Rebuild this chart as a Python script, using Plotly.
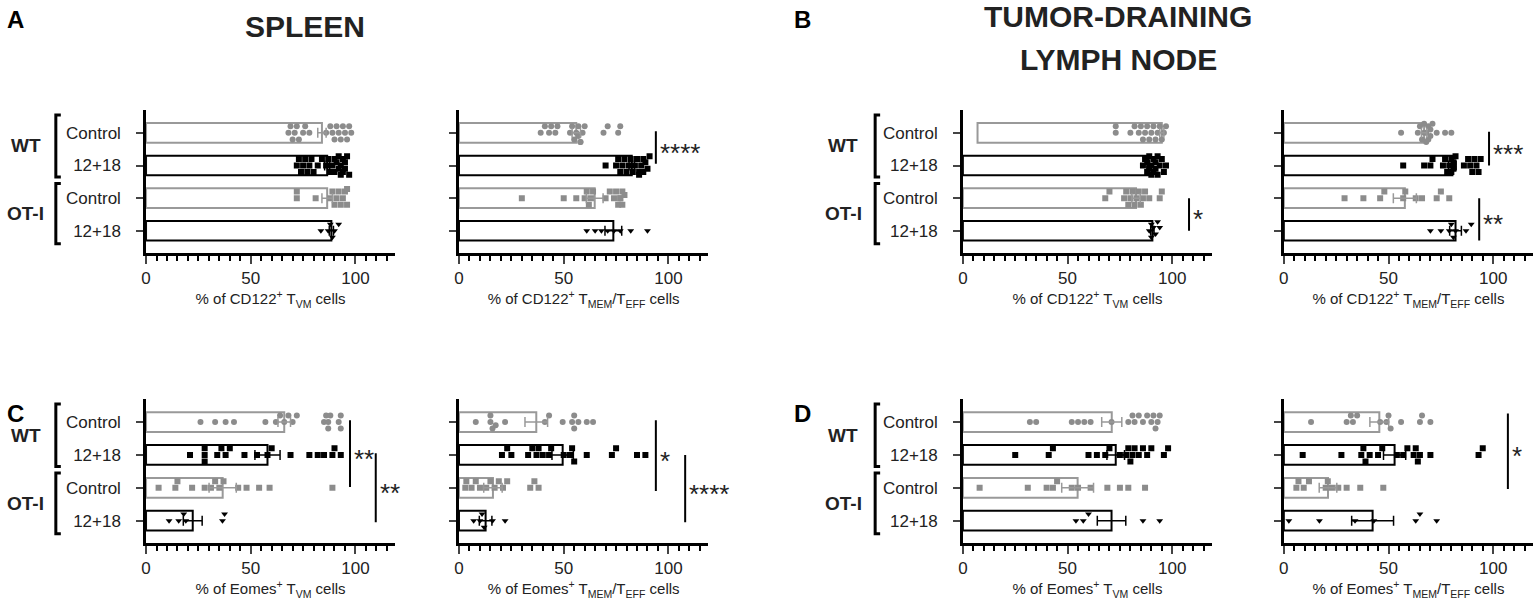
import plotly.graph_objects as go

# ---- data ---------------------------------------------------------------
groups = ["Control", "12+18", "Control", "12+18"]
strains = ["WT", "OT-I"]

# A, spleen, CD122+ TVM
spl_cd122_vm_mean = [84, 86.5, 86.5, 88.5]
spl_cd122_vm_sem = [2.0, 1.2, 2.5, 1.0]
spl_cd122_vm_pts = [
    [68, 69, 70, 71, 72, 73, 75, 76, 78, 86, 88, 89, 90, 91, 92, 93, 94, 95, 96, 97, 98],
    [72, 73, 74, 75, 76, 77, 78, 79, 80, 82, 84, 86, 87, 88, 89, 90, 90, 91, 92, 92, 93, 93, 94, 94, 95, 95, 96, 97],
    [72, 72, 81, 88, 89, 90, 91, 92, 93, 94, 95, 96, 96],
    [83.5, 87, 88, 89, 90, 92],
]
# A, spleen, CD122+ TMEM/TEFF
spl_cd122_mem_mean = [56, 82.5, 64.8, 73.7]
spl_cd122_mem_sem = [2.0, 1.3, 4.0, 4.0]
spl_cd122_mem_pts = [
    [39, 41, 43, 44, 46, 47, 53, 54, 55, 56, 57, 57, 58, 58, 59, 60, 69, 71, 76, 77],
    [70, 75, 76, 77, 78, 79, 80, 81, 82, 83, 84, 85, 86, 86, 87, 88, 88, 89, 90, 91],
    [30, 50, 56, 60, 61, 62, 63, 64, 70, 72, 74, 75, 76, 77, 77, 78, 78, 79],
    [61, 65, 68, 71, 74, 77, 82, 90],
]
# B, tumor-draining LN, CD122+ TVM
tdln_cd122_vm_base = [7, 0, 0, 0]
tdln_cd122_vm_mean = [88, 88.5, 82.7, 90.5]
tdln_cd122_vm_sem = [1.0, 0.6, 2.0, 0.8]
tdln_cd122_vm_pts = [
    [73, 73, 80, 82, 84, 85, 86, 87, 88, 89, 90, 91, 92, 93, 94, 95, 96, 97],
    [86, 87, 88, 88, 89, 89, 90, 90, 91, 91, 92, 92, 93, 93, 94, 95, 96, 97],
    [68, 70, 77, 78, 79, 80, 81, 82, 83, 84, 85, 86, 87, 89, 94, 95],
    [89, 90, 90, 91, 92, 93, 94],
]
# B, tumor-draining LN, CD122+ TMEM/TEFF
tdln_cd122_mem_mean = [67, 80.5, 57.8, 82]
tdln_cd122_mem_sem = [1.3, 1.8, 5.5, 2.8]
tdln_cd122_mem_pts = [
    [56, 64, 65, 66, 67, 67, 68, 68, 69, 69, 70, 70, 71, 73, 77, 80],
    [57, 67, 70, 71, 76, 77, 78, 79, 80, 80, 81, 81, 82, 86, 88, 89, 90, 91, 92, 93, 94],
    [29, 38, 46, 48, 57, 58, 63, 66, 73, 75, 79],
    [70, 75, 79, 80, 81, 82, 87, 89.5],
]
# C, spleen, Eomes+ TVM
spl_eomes_vm_mean = [66, 58, 36.6, 22.3]
spl_eomes_vm_sem = [3.0, 6.0, 6.5, 4.5]
spl_eomes_vm_pts = [
    [26, 33, 38, 42, 57, 62, 64, 66, 68, 70, 72, 85, 86, 87, 87, 88, 92, 93, 93],
    [21, 28, 28, 28, 34, 36, 38, 40, 47, 53, 58, 60, 69, 78, 82, 85, 89, 90, 93],
    [6, 14, 15, 22, 28, 31, 33, 35, 37, 44, 48, 54, 59, 89],
    [11, 15.6, 18, 19, 36.5, 37.5],
]
# C, spleen, Eomes+ TMEM/TEFF
spl_eomes_mem_mean = [36.9, 49.5, 16.2, 12.7]
spl_eomes_mem_sem = [5.4, 5.1, 4.4, 3.0]
spl_eomes_mem_pts = [
    [8, 15, 15, 16, 17.5, 22, 41, 43, 49.5, 54, 55, 55, 57, 61, 64],
    [20.5, 23, 25, 33, 35, 37, 38, 40, 43, 44, 50, 53, 54, 55, 61, 73, 75, 85, 89],
    [3, 3.5, 6, 8, 10, 13, 15, 17, 19, 21, 23, 34, 36, 38],
    [7, 10, 11, 12, 16, 22],
]
# D, tumor-draining LN, Eomes+ TVM
tdln_eomes_vm_mean = [71.1, 73, 54.8, 71]
tdln_eomes_vm_sem = [4.8, 4.2, 7.6, 6.8]
tdln_eomes_vm_pts = [
    [32, 35, 52, 55, 58, 61, 71, 79, 81, 82, 84, 86, 88, 90, 91, 92, 93, 94],
    [25, 41, 43, 60, 64, 68, 70, 75, 78, 79, 80, 81, 82, 84, 86, 88, 90, 96, 98],
    [8, 31, 40, 43, 45, 52, 55, 61, 69, 75, 79, 87],
    [54, 57.5, 60, 86, 94],
]
# D, tumor-draining LN, Eomes+ TMEM/TEFF
tdln_eomes_mem_mean = [45.6, 52.9, 21.1, 42.4]
tdln_eomes_mem_sem = [4.5, 5.3, 4.2, 10.0]
tdln_eomes_mem_pts = [
    [13, 30, 32, 33, 35, 46, 49, 50, 51, 56, 65, 66, 70],
    [9, 27.5, 37, 38, 39, 41, 45, 47, 54, 57, 59, 62, 63, 64, 65, 70, 93, 95],
    [6, 7, 9.5, 12, 20, 21, 23, 26, 30, 36.5, 47.5],
    [2.4, 17, 34, 43, 63, 65, 73],
]

title_cd122_vm = "% of CD122<sup>+</sup> T<sub>VM</sub> cells"
title_cd122_mem = "% of CD122<sup>+</sup> T<sub>MEM</sub>/T<sub>EFF</sub> cells"
title_eomes_vm = "% of Eomes<sup>+</sup> T<sub>VM</sub> cells"
title_eomes_mem = "% of Eomes<sup>+</sup> T<sub>MEM</sub>/T<sub>EFF</sub> cells"

# significance bars: subplot, x, from group, to group, label
sig_subplot = [2, 3, 4, 4, 5, 5, 6, 6, 8]
sig_x = [94, 108, 98, 93.3, 97.4, 109.7, 94, 108, 107]
sig_from = [-0.05, 2.0, -0.03, 2.0, -0.05, 0.95, -0.05, 1.0, -0.26]
sig_to = [0.95, 3.0, 1.0, 3.3, 1.98, 3.05, 2.1, 3.05, 2.04]
sig_text = ["****", "*", "***", "**", "**", "**", "*", "****", "*"]

# ---- styling ----------------------------------------------------------
W, H = 1536, 603
GRAY = "#8c8c8c"
EDGE = "#999999"
FONT = "Liberation Sans, Arial"

edge_cols = [EDGE, "black", EDGE, "black"]
pt_cols = [GRAY, "black", GRAY, "black"]
pt_syms = ["circle", "square", "square", "triangle-down"]

panels = [
    (spl_cd122_vm_mean, spl_cd122_vm_sem, spl_cd122_vm_pts, [0, 0, 0, 0], title_cd122_vm),
    (spl_cd122_mem_mean, spl_cd122_mem_sem, spl_cd122_mem_pts, [0, 0, 0, 0], title_cd122_mem),
    (tdln_cd122_vm_mean, tdln_cd122_vm_sem, tdln_cd122_vm_pts, tdln_cd122_vm_base, title_cd122_vm),
    (tdln_cd122_mem_mean, tdln_cd122_mem_sem, tdln_cd122_mem_pts, [0, 0, 0, 0], title_cd122_mem),
    (spl_eomes_vm_mean, spl_eomes_vm_sem, spl_eomes_vm_pts, [0, 0, 0, 0], title_eomes_vm),
    (spl_eomes_mem_mean, spl_eomes_mem_sem, spl_eomes_mem_pts, [0, 0, 0, 0], title_eomes_mem),
    (tdln_eomes_vm_mean, tdln_eomes_vm_sem, tdln_eomes_vm_pts, [0, 0, 0, 0], title_eomes_vm),
    (tdln_eomes_mem_mean, tdln_eomes_mem_sem, tdln_eomes_mem_pts, [0, 0, 0, 0], title_eomes_mem),
]

# pixel boxes of the plot areas
col_px = [(141.5, 391.5), (455.5, 705.5), (961, 1211), (1283, 1533)]
row_px = [(110, 253), (399, 543)]


def spread(vals, gap=2.8):
    # stack close values vertically, like a scatter-dot plot
    seq = [0, -0.2, 0.2, -0.1, 0.1, -0.28, 0.28]
    offs = []
    for k, v in enumerate(vals):
        used = [offs[j] for j in range(k) if abs(vals[j] - v) < gap]
        pick = seq[k % len(seq)]
        for o in seq:
            if all(abs(o - u) >= 0.17 for u in used):
                pick = o
                break
        offs.append(pick)
    return offs


fig = go.Figure()
layout = {}

for i, (means, sems, pts, base, title) in enumerate(panels):
    n = i + 1
    sfx = "" if n == 1 else str(n)
    xa, ya = "x" + sfx, "y" + sfx
    cats = list(range(4))
    fig.add_trace(go.Bar(
        x=means, y=cats, base=base, orientation="h", width=0.6,
        marker=dict(color="white", line=dict(color=edge_cols, width=2)),
        xaxis=xa, yaxis=ya, showlegend=False, hoverinfo="skip"))
    for g in cats:
        offs = spread(pts[g])
        fig.add_trace(go.Scatter(
            x=pts[g], y=[g + o for o in offs], mode="markers",
            marker=dict(symbol=pt_syms[g], size=6, color=pt_cols[g]),
            xaxis=xa, yaxis=ya, showlegend=False))
        fig.add_trace(go.Scatter(
            x=[means[g] + base[g]], y=[g], mode="markers",
            marker=dict(size=1, color="rgba(0,0,0,0)"),
            error_x=dict(type="data", array=[sems[g]], color=edge_cols[g],
                         thickness=1.5, width=5),
            xaxis=xa, yaxis=ya, showlegend=False))

    c = i % 4
    r = i // 4
    x0, x1 = col_px[c]
    y0, y1 = row_px[r]
    layout["xaxis" + sfx] = dict(
        domain=[x0 / W, x1 / W], anchor=ya,
        range=[0, 119], tickvals=[0, 50, 100], ticks="outside", ticklen=8,
        tickwidth=2, showline=True, linewidth=2.5, linecolor="black",
        showgrid=False, zeroline=False,
        minor=dict(dtick=5, tick0=0, ticks="outside", ticklen=5, tickwidth=2,
                   tickcolor="black", showgrid=False),
        tickfont=dict(family=FONT, size=17, color="#222"),
        title=dict(text=title, font=dict(family=FONT, size=15, color="#222"),
                   standoff=4))
    layout["yaxis" + sfx] = dict(
        domain=[1 - y1 / H, 1 - y0 / H], anchor=xa,
        range=[3.68, -0.7], tickvals=cats, ticktext=groups,
        showticklabels=(c % 2 == 0), ticks="outside", ticklen=7, tickwidth=2,
        ticklabelstandoff=12,
        showline=True, linewidth=2.5, linecolor="black", showgrid=False,
        zeroline=False, tickfont=dict(family=FONT, size=17, color="#222"))

fig.update_layout(**layout)

shapes = []
annotations = []

# group brackets with WT / OT-I labels
for n, bx, lx in [(1, 51, 21), (3, 873, 841), (5, 51, 21), (7, 873, 841)]:
    ya = "y" if n == 1 else "y%d" % n
    for s, (a, b) in enumerate([(-0.55, 1.35), (1.55, 3.4)]):
        shapes.append(dict(
            type="path", xref="paper", yref=ya,
            path="M %f,%f L %f,%f L %f,%f L %f,%f" % (
                (bx + 5) / W, a, bx / W, a, bx / W, b, (bx + 5) / W, b),
            line=dict(color="black", width=3)))
        annotations.append(dict(
            text="<b>%s</b>" % strains[s], xref="paper", yref=ya,
            x=lx / W, y=(a + b) / 2, xanchor="center", yanchor="middle",
            showarrow=False, font=dict(family=FONT, size=19, color="#222")))

# significance lines
for k in range(len(sig_subplot)):
    n = sig_subplot[k]
    sfx = "" if n == 1 else str(n)
    shapes.append(dict(type="line", xref="x" + sfx, yref="y" + sfx,
                       x0=sig_x[k], x1=sig_x[k], y0=sig_from[k], y1=sig_to[k],
                       line=dict(color="black", width=2)))
    annotations.append(dict(
        text=sig_text[k], xref="x" + sfx, yref="y" + sfx, x=sig_x[k],
        y=(sig_from[k] + sig_to[k]) / 2, xanchor="left", yanchor="middle",
        xshift=2, yshift=-5, showarrow=False,
        font=dict(family=FONT, size=26, color="#222")))

# panel letters and headings
for t, px, py in [("A", 0, 4), ("B", 790, 4), ("C", 0, 398), ("D", 790, 398)]:
    annotations.append(dict(text="<b>%s</b>" % t, xref="paper", yref="paper",
                            x=px / W, y=1 - py / H, xanchor="left", yanchor="top",
                            showarrow=False,
                            font=dict(family=FONT, size=24, color="black")))
for t, px, py in [("SPLEEN", 301, 26), ("TUMOR-DRAINING", 1117, 17),
                  ("LYMPH NODE", 1117, 59)]:
    annotations.append(dict(text="<b>%s</b>" % t, xref="paper", yref="paper",
                            x=px / W, y=1 - py / H, xanchor="center",
                            yanchor="middle", showarrow=False,
                            font=dict(family=FONT, size=30, color="#222")))

fig.update_layout(
    width=W, height=H, margin=dict(l=0, r=0, t=0, b=0),
    paper_bgcolor="white", plot_bgcolor="white", barmode="overlay",
    shapes=shapes, annotations=annotations)

fig.write_html("out.html", config={"displayModeBar": False},
               post_script="document.body.style.margin='0';")
